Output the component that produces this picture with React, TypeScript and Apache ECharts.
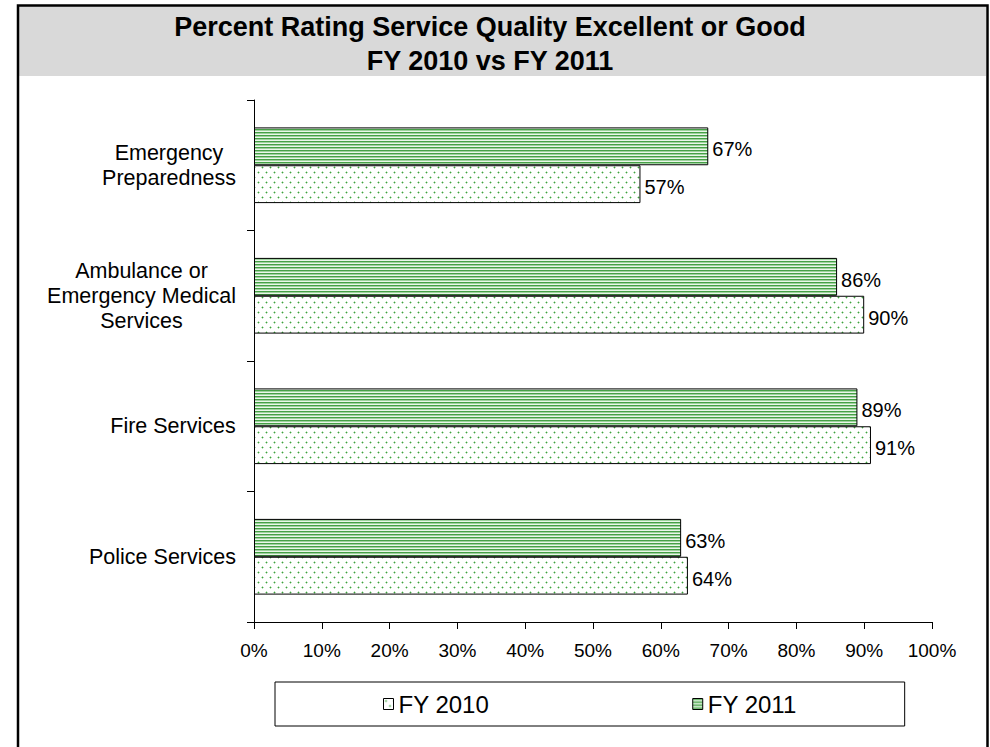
import React, { useEffect, useRef } from 'react';
import * as echarts from 'echarts';

const categories = [
  'Police Services',
  'Fire Services',
  'Ambulance or\nEmergency Medical\nServices',
  'Emergency\nPreparedness',
];
const seriesNames = ['FY 2010', 'FY 2011'];
const fy2010 = [64, 91, 90, 57];
const fy2011 = [63, 89, 86, 67];
const xMin = 0;
const xMax = 100;
const xStep = 10;
const titleLines = ['Percent Rating Service Quality Excellent or Good', 'FY 2010 vs FY 2011'];

const FONT = '"Liberation Sans", Arial, Helvetica, sans-serif';
const CAT_SIZE = 21.5;

function makeStripe() {
  const c = document.createElement('canvas');
  c.width = 4;
  c.height = 3;
  const g = c.getContext('2d')!;
  const rows = ['#46a046', '#9ed29e', '#eaf6ea'];
  rows.forEach((col, i) => {
    g.fillStyle = col;
    g.fillRect(0, i, 4, 1);
  });
  return c.toDataURL();
}

function makeDots() {
  const c = document.createElement('canvas');
  c.width = 8;
  c.height = 10;
  const g = c.getContext('2d')!;
  g.fillStyle = '#ffffff';
  g.fillRect(0, 0, 8, 10);
  const dot = (x: number, y: number) => {
    g.fillStyle = '#b7dfb7';
    g.fillRect(x - 1, y, 3, 1);
    g.fillRect(x, y - 1, 1, 3);
    g.fillStyle = '#3f9f3f';
    g.fillRect(x, y, 1, 1);
  };
  dot(2, 2);
  dot(6, 7);
  return c.toDataURL();
}

export default function App() {
  const ref = useRef<HTMLDivElement>(null);
  useEffect(() => {
    if (!ref.current) return;
    const chart = echarts.init(ref.current, undefined, { renderer: 'svg' });

    const stripe = { image: makeStripe(), repeat: 'repeat', imageWidth: 4, imageHeight: 3 } as any;
    const dots = { image: makeDots(), repeat: 'repeat', imageWidth: 8, imageHeight: 10 } as any;

    const ctx = document.createElement('canvas').getContext('2d')!;
    ctx.font = `${CAT_SIZE}px ${FONT}`;
    const widths = categories.map((c) =>
      Math.ceil(Math.max(...c.split('\n').map((l) => ctx.measureText(l).width)))
    );
    const rich: Record<string, any> = {};
    categories.forEach((_, i) => {
      rich['c' + i] = {
        width: widths[i],
        align: 'center',
        fontSize: CAT_SIZE,
        fontFamily: FONT,
        lineHeight: 25,
        color: '#000',
      };
    });

    const labelStyle = {
      show: true,
      position: 'right',
      distance: 4,
      offset: [0, 3],
      formatter: '{c}%',
      color: '#000',
      fontSize: 20,
      fontFamily: FONT,
    };

    chart.setOption({
      animation: false,
      backgroundColor: '#ffffff',
      graphic: [
        {
          type: 'rect',
          z: -10,
          silent: true,
          shape: { x: 19, y: 6, width: 967, height: 70 },
          style: { fill: '#d9d9d9' },
        },
        {
          type: 'rect',
          z: 100,
          silent: true,
          shape: { x: 18, y: 5.5, width: 969.5, height: 800 },
          style: { fill: 'none', stroke: '#000', lineWidth: 2.5 },
        },
      ],
      title: {
        text: titleLines.join('\n'),
        left: 490,
        top: 10,
        padding: 0,
        textAlign: 'center',
        textStyle: {
          fontFamily: FONT,
          fontSize: 27,
          fontWeight: 'bold',
          color: '#000',
          lineHeight: 34,
        },
      },
      grid: { left: 254, right: 58, top: 100, bottom: 125 },
      xAxis: {
        type: 'value',
        min: xMin,
        max: xMax,
        interval: xStep,
        axisLine: { show: true, lineStyle: { color: '#000', width: 1 } },
        axisTick: { show: true, length: 7, lineStyle: { color: '#000' } },
        splitLine: { show: false },
        axisLabel: {
          formatter: '{value}%',
          color: '#000',
          fontSize: 19,
          fontFamily: FONT,
          margin: 19,
        },
      },
      yAxis: {
        type: 'category',
        data: categories,
        axisLine: { show: true, lineStyle: { color: '#000', width: 1 } },
        axisTick: { show: true, length: 7, lineStyle: { color: '#000' } },
        axisLabel: {
          margin: 18,
          color: '#000',
          fontSize: CAT_SIZE,
          fontFamily: FONT,
          lineHeight: 25,
          formatter: (v: string, idx: number) =>
            v.split('\n').map((l) => `{c${idx}|${l}}`).join('\n'),
          rich,
        },
      },
      legend: {
        data: seriesNames,
        left: 275,
        top: 682,
        orient: 'horizontal',
        padding: [10, 108, 10, 108],
        itemGap: 203,
        itemWidth: 10,
        itemHeight: 11,
        icon: 'rect',
        borderColor: '#000',
        borderWidth: 1,
        itemStyle: { borderColor: '#000', borderWidth: 1 },
        textStyle: { fontFamily: FONT, fontSize: 24, color: '#000' },
      },
      series: [
        {
          name: seriesNames[1],
          type: 'bar',
          data: fy2011,
          barGap: '0%',
          barCategoryGap: '42%',
          itemStyle: { color: stripe, borderColor: '#000', borderWidth: 1 },
          label: labelStyle,
        },
        {
          name: seriesNames[0],
          type: 'bar',
          data: fy2010,
          barGap: '0%',
          barCategoryGap: '42%',
          itemStyle: { color: dots, borderColor: '#000', borderWidth: 1 },
          label: labelStyle,
        },
      ],
    });
    return () => chart.dispose();
  }, []);
  return (
    <div
      ref={ref}
      style={{ position: 'fixed', left: 0, top: 0, width: 990, height: 747, background: '#fff' }}
    />
  );
}
